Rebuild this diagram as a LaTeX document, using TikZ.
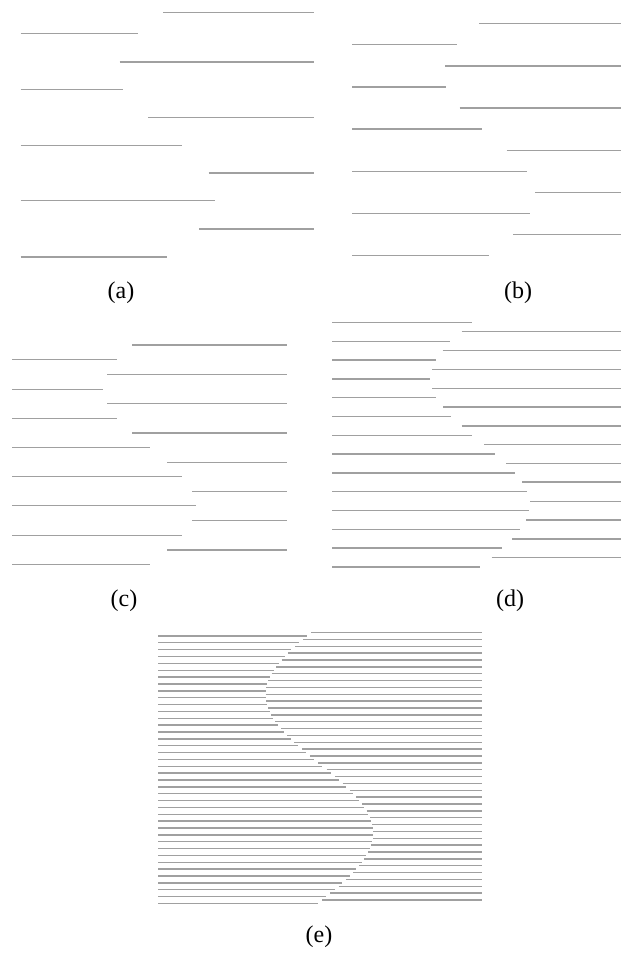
\documentclass[tikz,border=0pt]{standalone}
\usepackage{fontspec}
\setmainfont{Liberation Serif}
\usepackage{tikz}
\usetikzlibrary{positioning}
\definecolor{linegray}{RGB}{160,160,160}
\tikzset{
  seg/.style={line width=1.4pt, color=linegray},
  lbl/.style={inner sep=0pt, font=\fontsize{24}{28}\selectfont}
}

\begin{document}
\begin{tikzpicture}[x=1pt,y=-1pt]
\useasboundingbox (0,0) rectangle (621,955);
% Panel (a)
\foreach \y/\x in {12.7/163, 62/119.7, 117.3/148.3, 173/208.7, 229/199}
  \draw[seg] (\x,\y) -- (314,\y);
\foreach \y/\x in {33.7/137.7, 89.3/123.3, 145.3/182, 200.7/215, 257/166.7}
  \draw[seg] (20.7,\y) -- (\x,\y);
\node[lbl] (la) at (121,293) {(a)};
% Panel (b)
\foreach \y/\x in {23.7/479, 66/445.3, 108/459.7, 150.3/506.7, 192.3/535, 234.3/513.3}
  \draw[seg] (\x,\y) -- (620.7,\y);
\foreach \y/\x in {44.7/457, 87/446, 129/482.3, 171.3/526.7, 213.3/530, 255.7/489.3}
  \draw[seg] (352.3,\y) -- (\x,\y);
\node[lbl] (lb) at (518,293) {(b)};
% Panel (c)
\foreach \y/\x in {345/132.3, 374.3/107.3, 403.7/107.3, 433/132.3, 462.3/167, 491.3/192, 520.7/192, 550/167}
  \draw[seg] (\x,\y) -- (287.3,\y);
\foreach \y/\x in {359.7/117, 389.3/103.3, 418.3/117, 447.3/149.7, 476.7/182, 505.7/195.7, 535.3/182, 564.3/149.7}
  \draw[seg] (12,\y) -- (\x,\y);
\node[lbl] (lc) at (124,601) {(c)};
% Panel (d)
\foreach \y/\x in {331.7/461.7, 350.7/442.7, 369.7/432.3, 388.3/432, 407/443, 426/461.7, 444.3/484,
                   463.3/506, 482/522, 501.3/530.3, 520/526, 539/512.3, 557.7/491.7}
  \draw[seg] (\x,\y) -- (620.7,\y);
\foreach \y/\x in {322.7/472.3, 341.3/450.3, 360/436, 379/430.3, 397.7/436, 416.3/450.7, 435.3/472.3,
                   454/494.7, 473/515, 491.7/527, 510.7/529, 529.3/520, 548/502.3, 567/480}
  \draw[seg] (332,\y) -- (\x,\y);
\node[lbl] (ld) at (510,601) {(d)};
% Panel (e): 80 rows, even rows on the right, odd rows on the left
\foreach \i in {0,...,79} {
  \pgfmathsetmacro{\yy}{632.5+\i*3.43}
  \pgfmathsetmacro{\bx}{319.5-53.8*cos(1.3011*(\yy-694.7))}
  \ifodd\i
    \draw[seg] (158,\yy) -- (\bx,\yy);
  \else
    \draw[seg] (\bx,\yy) -- (482,\yy);
  \fi
}
\node[lbl] (le) at (319,937) {(e)};
\end{tikzpicture}
\end{document}
